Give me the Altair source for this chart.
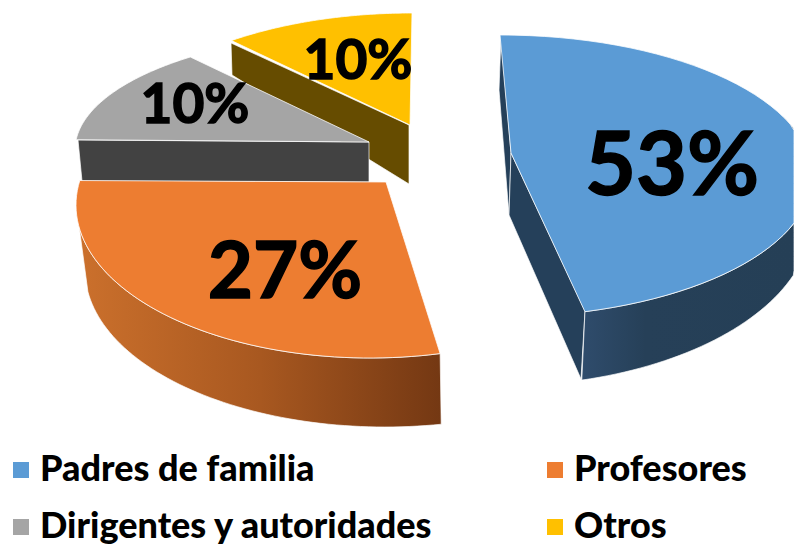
import math
import altair as alt

# ---- values ----
categories = ["Padres de familia", "Profesores", "Dirigentes y autoridades", "Otros"]
shares = [53, 27, 10, 10]
# Angular extent of each tilted slice's rim as drawn, degrees clockwise from the top
rim_start = [0.0, 166.2, 275.0, 323.0]
rim_sweep = [164.2, 113.0, 47.0, 37.0]

# ---- style / view geometry ----
W, H, M = 786, 537, 8
colors = ["#5B9BD5", "#ED7D31", "#A5A5A5", "#FFC000"]
ellipses = [(500, 176, 312, 141), (370, 205, 294, 153), (375, 150, 300, 118), (412, 150, 300, 137)]
apexes = [(511, 153), (386, 182), (369, 142), (410, 125)]
label_pos = [(672, 195, 88), (285, 298, 78), (195, 123, 55), (358, 79, 55)]


def pt(x, y):
    return [min(x - M, W), y - M]


def rim(ell, t0, t1, n=60):
    cx, cy, rx, ry = ell
    out = []
    for i in range(n + 1):
        t = math.radians(t0 + (t1 - t0) * i / n)
        out.append(pt(cx + rx * math.sin(t), cy - ry * math.cos(t)))
    return out


def feature(ring, name=None):
    ring = ring + [ring[0]]
    return {"type": "Feature", "geometry": {"type": "Polygon", "coordinates": [ring]},
            "properties": {"name": name}}


tops = []
for i, name in enumerate(categories):
    arc = rim(ellipses[i], rim_start[i], rim_start[i] + rim_sweep[i])
    tops.append(feature([pt(*apexes[i])] + arc, name))


def layer(features, fill, stroke="#ffffff", sw=0.8):
    return alt.Chart(alt.Data(values=features)).mark_geoshape(
        fill=fill, stroke=stroke, strokeWidth=sw, strokeOpacity=0.85)


def grad(stops, x1=0, x2=1):
    return alt.Gradient(gradient="linear", x1=x1, x2=x2, y1=0, y2=0,
                        stops=[alt.GradientStop(color=c, offset=o) for o, c in stops])


# Side walls
yellow_side = layer([feature([pt(231, 43), pt(232, 75), pt(409, 184), pt(409, 125)])], "#664C00")
gray_side = layer([feature([pt(78, 140), pt(82, 181), pt(369, 182), pt(369, 142)])], "#424242")
orange_wall = rim(ellipses[1], 166.2, 261.4) + rim((385, 270, 300, 157), 262, 169.2)
orange_side = layer([feature(orange_wall)],
                    grad([(0, "#743813"), (0.5, "#A85820"), (1, "#CB702C")], 1, 0))
blue_left = layer([feature([pt(501, 35), pt(499, 90), pt(509, 215), pt(511, 153)])], "#25405A")
blue_low = layer([feature([pt(511, 153), pt(509, 215), pt(581, 379), pt(585, 311)])], "#25405A")
blue_wall = rim(ellipses[0], 164.2, 65) + rim((500, 218, 312, 168), 65, 164.8)
blue_front = layer([feature(blue_wall)], grad([(0, "#2F4C6C"), (0.3, "#264058"), (1, "#253F56")]))

# Top faces, with the legend (the legend fills column by column)
legend_order = [categories[0], categories[2], categories[1], categories[3]]
legend_colors = [colors[0], colors[2], colors[1], colors[3]]
top_chart = alt.Chart(alt.Data(values=tops)).mark_geoshape(
    stroke="#ffffff", strokeWidth=0.9, strokeOpacity=0.85
).encode(
    color=alt.Color(
        "properties.name:N",
        scale=alt.Scale(domain=legend_order, range=legend_colors),
        legend=alt.Legend(
            title=None, orient="none", legendX=-5, legendY=444, columns=2, padding=0,
            columnPadding=103, rowPadding=21, symbolType="square", symbolSize=256,
            symbolStrokeWidth=0, symbolOpacity=1, labelFont="Lato", labelFontWeight=900,
            labelFontSize=36, labelColor="#000000", labelOffset=1, labelLimit=600,
            gridAlign="each",
        ),
    )
)

labels = alt.Chart(alt.Data(values=[
    {"t": f"{s}%", "lon": p[0] - M, "lat": p[1] - M, "size": p[2]}
    for s, p in zip(shares, label_pos)
])).mark_text(font="Lato", fontWeight="bold", color="#000000", align="center",
              baseline="alphabetic", stroke="#000000", strokeWidth=1.5).encode(
    longitude="lon:Q", latitude="lat:Q", text="t:N",
    size=alt.Size("size:Q", scale=None, legend=None),
)

chart = alt.layer(
    yellow_side, gray_side, orange_side, blue_left, blue_low, blue_front, top_chart, labels
).project(type="identity", scale=1, translate=[0, 0]).properties(
    width=W, height=H, padding=0, autosize=alt.AutoSizeParams(type="none"),
    background="#ffffff",
).configure_view(stroke=None)

chart.save("out.html", embed_options={"renderer": "svg", "actions": False})
